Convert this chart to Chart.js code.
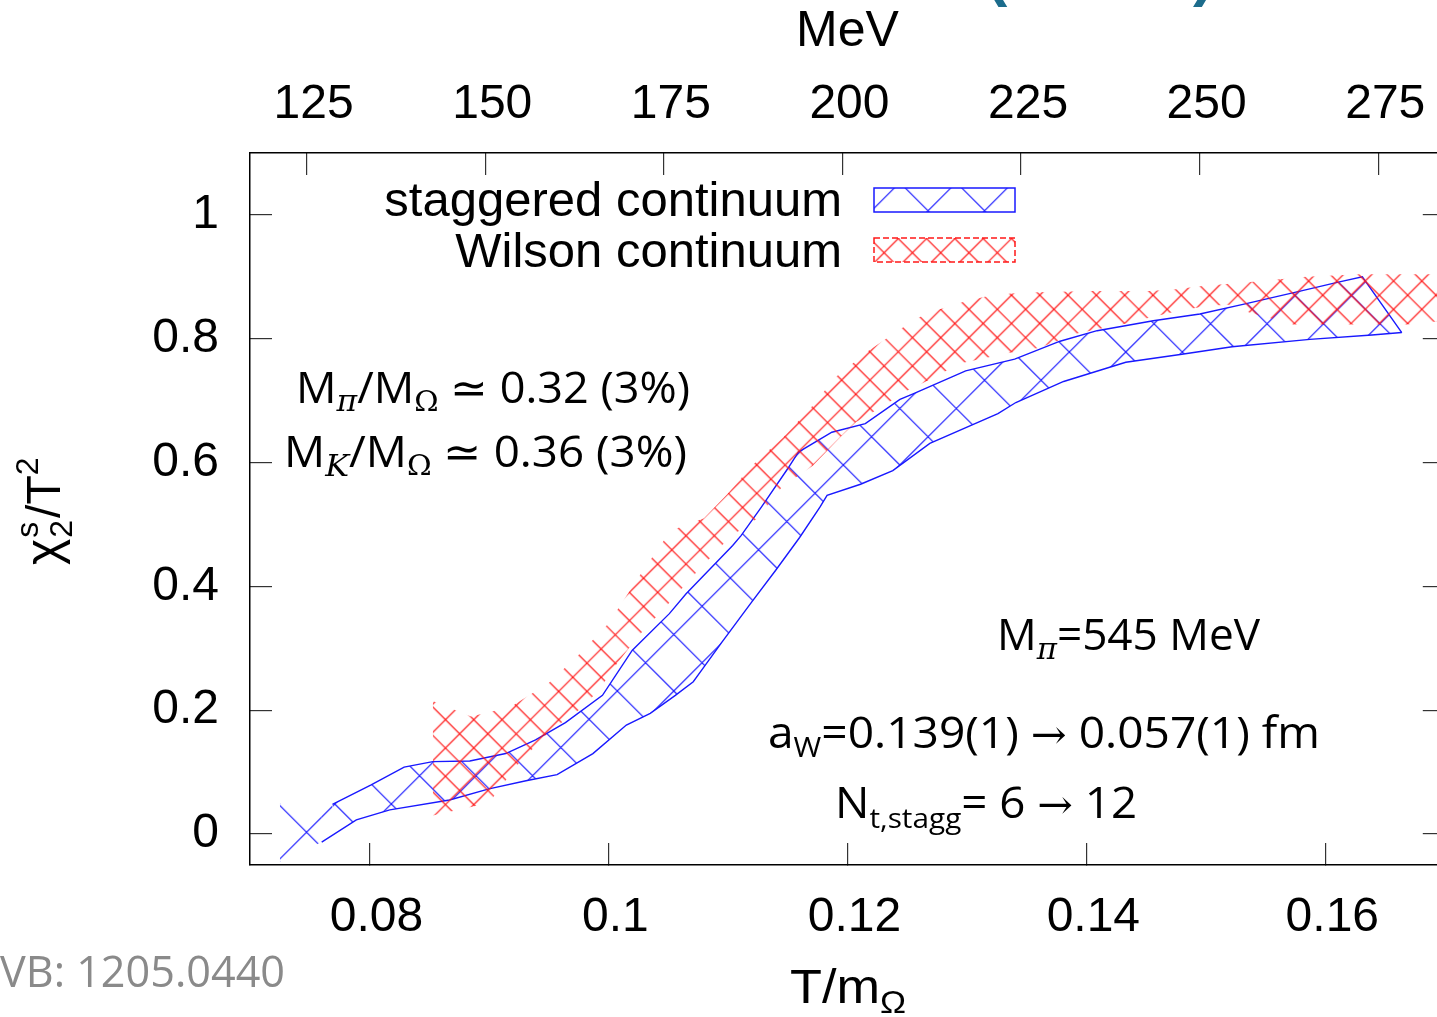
<!DOCTYPE html>
<html>
<head>
<meta charset="utf-8">
<script src="https://cdn.jsdelivr.net/npm/chart.js@4.4.1/dist/chart.umd.min.js"></script>
<style>
  html, body { margin: 0; padding: 0; background: #fff; overflow: hidden; }
  #wrap { width: 1437px; height: 1017px; overflow: hidden; }
  canvas { display: block; }
</style>
</head>
<body>
<div id="wrap"><canvas id="chart" width="1460" height="1017"></canvas></div>
<script>
// band edges (x = T/m_Omega, y = chi2/T^2)
const staggT_up = [0.0725, 0.0769, 0.0801, 0.0829, 0.0853, 0.0884, 0.0914, 0.0939, 0.0964, 0.0995, 0.1020, 0.1051, 0.1065, 0.1104, 0.1111, 0.1128, 0.1150, 0.1159, 0.1187, 0.1215, 0.1244, 0.1255, 0.1299, 0.1340, 0.1378, 0.1409, 0.1456, 0.1495, 0.1532, 0.1579, 0.1610, 0.1631, 0.1664];
const staggUpper = [0.05, 0.048, 0.079, 0.108, 0.117, 0.118, 0.130, 0.152, 0.180, 0.224, 0.297, 0.356, 0.388, 0.466, 0.482, 0.528, 0.590, 0.617, 0.649, 0.663, 0.702, 0.711, 0.748, 0.767, 0.796, 0.813, 0.829, 0.840, 0.856, 0.877, 0.891, 0.900, 0.810];
const staggT_lo = [0.0725, 0.0760, 0.0789, 0.0817, 0.0867, 0.0900, 0.0931, 0.0957, 0.0987, 0.1015, 0.1035, 0.1056, 0.1071, 0.1080, 0.1095, 0.1120, 0.1140, 0.1160, 0.1177, 0.1183, 0.1211, 0.1238, 0.1269, 0.1326, 0.1341, 0.1381, 0.1433, 0.1480, 0.1522, 0.1587, 0.1639, 0.1664];
const staggLower = [-0.045, -0.013, 0.023, 0.039, 0.055, 0.073, 0.086, 0.096, 0.130, 0.176, 0.195, 0.224, 0.246, 0.270, 0.310, 0.375, 0.426, 0.479, 0.528, 0.547, 0.565, 0.587, 0.631, 0.679, 0.697, 0.731, 0.762, 0.775, 0.787, 0.799, 0.806, 0.810];

const wilsonT_up = [0.0853, 0.0885, 0.0918, 0.0950, 0.0975, 0.1000, 0.1027, 0.1052, 0.1080, 0.1100, 0.1120, 0.1147, 0.1171, 0.1190, 0.1218, 0.1240, 0.1259, 0.1278, 0.1296, 0.1315, 0.1337, 0.1360, 0.1406, 0.1453, 0.1475, 0.1497, 0.1540, 0.1584, 0.1629, 0.1700];
const wilsonUpper = [0.215, 0.19, 0.205, 0.244, 0.289, 0.34, 0.42, 0.49, 0.51, 0.55, 0.595, 0.642, 0.692, 0.738, 0.781, 0.81, 0.834, 0.848, 0.859, 0.868, 0.873, 0.875, 0.877, 0.877, 0.880, 0.885, 0.892, 0.900, 0.904, 0.904];
const wilsonT_lo = [0.0853, 0.0900, 0.0923, 0.0950, 0.0975, 0.0992, 0.1005, 0.1025, 0.1048, 0.1070, 0.1102, 0.1125, 0.1145, 0.1171, 0.1194, 0.1207, 0.1229, 0.1249, 0.1270, 0.1294, 0.1338, 0.1360, 0.1393, 0.1431, 0.1470, 0.1500, 0.1519, 0.1537, 0.1573, 0.1621, 0.1668, 0.1700];
const wilsonLower = [0.03, 0.05, 0.11, 0.165, 0.2, 0.232, 0.27, 0.32, 0.367, 0.415, 0.48, 0.51, 0.56, 0.595, 0.641, 0.665, 0.69, 0.715, 0.735, 0.76, 0.778, 0.785, 0.809, 0.824, 0.842, 0.853, 0.855, 0.842, 0.823, 0.823, 0.823, 0.829];

const xTicks = [0.08, 0.1, 0.12, 0.14, 0.16];
const yTicks = [0, 0.2, 0.4, 0.6, 0.8, 1];
const mevTicks = [125, 150, 175, 200, 225, 250, 275];
const OMEGA_MASS = 1672.45; // MeV, top axis is T = m_Omega * x

const BLUE = 'rgb(25,25,255)';
const RED = 'rgb(255,25,25)';
const SANS = '"Liberation Sans", Arial, sans-serif';
const TEXT = '"Open Sans", sans-serif';
const SERIF = '"DejaVu Serif", serif';


// crosshatch pattern, tile holds several periods so no resampling
function hatch(color, period, reps, ox, oy) {
    const size = Math.round(period * reps);
    const c = document.createElement('canvas');
    c.width = size; c.height = size;
    const g = c.getContext('2d');
    g.strokeStyle = color;
    g.lineWidth = 1.2;
    g.beginPath();
    for (let k = -reps - 1; k <= 2 * reps + 1; k++) {
        g.moveTo(k * period - 3, -3); g.lineTo(k * period + size + 3, size + 3);
        g.moveTo(k * period + 3, -3); g.lineTo(k * period - size - 3, size + 3);
    }
    g.stroke();
    const p = g.createPattern(c, 'repeat');
    p.setTransform(new DOMMatrix().translate(ox, oy));
    return p;
}
const blueHatch = hatch(BLUE, 56.5, 2, 843.3, 465);
const redHatch = hatch(RED, 28.3, 10, 756.7, 493.3);

const pts = (xs, ys) => xs.map((x, i) => ({x: x, y: ys[i]}));


// text with sub/superscripts, squeezed to a given width
function rich(c, x, y, parts, width, color) {
    c.save();
    c.fillStyle = color || '#000';
    c.textBaseline = 'alphabetic';
    c.textAlign = 'left';
    let total = 0;
    parts.forEach(p => { c.font = p[1]; total += c.measureText(p[0]).width; });
    c.translate(x, y);
    if (width) c.scale(width / total, 1);
    let cx = 0;
    parts.forEach(p => {
        c.font = p[1];
        c.fillText(p[0], cx, p[2] || 0);
        cx += c.measureText(p[0]).width;
    });
    c.restore();
}

const annotations = {
    id: 'annotations',
    afterDraw(chart) {
        const c = chart.ctx;
        const big = `43px ${TEXT}`;
        const sub = `28px ${TEXT}`;

        // legend
        c.save();
        c.font = `49px ${SANS}`;
        c.fillStyle = '#000';
        c.textAlign = 'right';
        c.textBaseline = 'alphabetic';
        c.fillText('staggered continuum', 842, 216);
        c.fillText('Wilson continuum', 842, 267);
        c.fillStyle = blueHatch;
        c.fillRect(874, 188, 141, 24);
        c.strokeStyle = BLUE; c.lineWidth = 1.5;
        c.strokeRect(874, 188, 141, 24);
        c.fillStyle = redHatch;
        c.fillRect(874, 238, 141, 24);
        c.strokeStyle = RED;
        c.setLineDash([6, 3]);
        c.strokeRect(874, 238, 141, 24);
        c.restore();

        rich(c, 296, 403, [['M', big], ['π', `italic 30px ${SERIF}`, 8], ['/M', big], ['Ω', `28px ${SERIF}`, 8], [' ≃ 0.32 (3%)', big]], 394);
        rich(c, 284, 467, [['M', big], ['K', `italic 30px ${SERIF}`, 9], ['/M', big], ['Ω', `28px ${SERIF}`, 8], [' ≃ 0.36 (3%)', big]], 403);
        rich(c, 997, 650, [['M', big], ['π', `italic 30px ${SERIF}`, 9], ['=545 MeV', big]], 263);
        rich(c, 768, 748, [['a', big], ['W', sub, 9], ['=0.139(1) ', big], ['→', `40px ${SERIF}`], [' 0.057(1) fm', big]], 552);
        rich(c, 835, 818, [['N', big], ['t,stagg', sub, 10], ['= 6 ', big], ['→', `40px ${SERIF}`], [' 12', big]], 302);
        rich(c, 0, 987, [['VB: 1205.0440', big]], 285, '#8a8a8a');

        // axis titles
        rich(c, 790, 1003, [['T/m', `48px ${SANS}`], ['Ω', `32px ${SANS}`, 10]], 116);
        c.save();
        c.translate(60, 565);
        c.rotate(-Math.PI / 2);
        c.fillStyle = '#000';
        c.font = `50px ${SANS}`;
        c.fillText('χ', 0, 0);
        let w = c.measureText('χ').width;
        c.font = `32px ${SANS}`;
        c.fillText('s', w + 1, -22);
        c.fillText('2', w + 1, 12);
        w += c.measureText('2').width + 3;
        c.font = `48px ${SANS}`;
        c.fillText('/T', w, 0);
        w += c.measureText('/T').width;
        c.font = `32px ${SANS}`;
        c.fillText('2', w, -22);
        c.restore();

        // bits of the slide title cut off at the top
        c.save();
        c.fillStyle = '#1c6c8c';
        c.font = `bold 64px ${SANS}`;
        c.fillText('(', 986, -6);
        c.fillText(')', 1193, -6);
        c.restore();
    }
};

const tickFont = {family: SANS, size: 48};
const setTicks = arr => scale => { scale.ticks = arr.map(v => ({value: v})); };
const inward = {drawOnChartArea: false, tickLength: -22, color: '#333', lineWidth: 1.2};
const frame = {color: '#000', width: 1.5};

const ctx = document.querySelector('#chart').getContext('2d');

new Chart(ctx, {
    type: 'line',
    data: {
        datasets: [
            {
                label: 'Wilson continuum',
                data: pts(wilsonT_up, wilsonUpper),
                fill: '+1',
                backgroundColor: redHatch,
                borderColor: 'rgba(0,0,0,0)',
                borderWidth: 1,
                pointRadius: 0
            },
            {
                label: 'Wilson lower',
                data: pts(wilsonT_lo, wilsonLower),
                fill: false,
                borderColor: 'rgba(0,0,0,0)',
                borderWidth: 1,
                pointRadius: 0
            },
            {
                label: 'staggered continuum',
                data: pts(staggT_up, staggUpper),
                fill: '+1',
                backgroundColor: blueHatch,
                borderColor: BLUE,
                borderWidth: 1.4,
                pointRadius: 0,
                segment: {borderColor: s => s.p0DataIndex === 0 ? 'rgba(0,0,0,0)' : BLUE}
            },
            {
                label: 'staggered lower',
                data: pts(staggT_lo, staggLower),
                fill: false,
                borderColor: BLUE,
                borderWidth: 1.4,
                pointRadius: 0,
                segment: {borderColor: s => s.p0DataIndex === 0 ? 'rgba(0,0,0,0)' : BLUE}
            }
        ]
    },
    options: {
        responsive: false,
        devicePixelRatio: 1,
        animation: false,
        events: [],
        layout: {padding: 0},
        plugins: {legend: {display: false}, tooltip: {enabled: false}},
        elements: {line: {tension: 0}},
        scales: {
            x: {
                type: 'linear', position: 'bottom', min: 0.07, max: 0.17,
                afterBuildTicks: setTicks(xTicks),
                ticks: {font: tickFont, color: '#000', padding: 46, labelOffset: 7, autoSkip: false, maxRotation: 0, callback: v => String(v)},
                grid: inward, border: frame,
                afterFit: s => { s.height = 152; }
            },
            x2: {
                type: 'linear', position: 'top', min: 0.07 * OMEGA_MASS, max: 0.17 * OMEGA_MASS,
                afterBuildTicks: setTicks(mevTicks),
                ticks: {font: tickFont, color: '#000', padding: 41, labelOffset: 7, autoSkip: false, maxRotation: 0},
                title: {display: true, text: 'MeV', font: {family: SANS, size: 50}, color: '#000', padding: {top: 2, bottom: 0}},
                grid: inward, border: frame,
                afterFit: s => { s.height = 153; }
            },
            y: {
                type: 'linear', position: 'left', min: -0.05, max: 1.1,
                afterBuildTicks: setTicks(yTicks),
                ticks: {font: tickFont, color: '#000', padding: 53, autoSkip: false, callback: v => String(v)},
                grid: inward, border: frame,
                afterFit: s => { s.width = 250; }
            },
            y2: {
                type: 'linear', position: 'right', min: -0.05, max: 1.1,
                afterBuildTicks: setTicks(yTicks),
                ticks: {display: false},
                grid: inward, border: frame,
                afterFit: s => { s.width = 13; }
            }
        }
    },
    plugins: [annotations]
})
</script>
</body>
</html>
